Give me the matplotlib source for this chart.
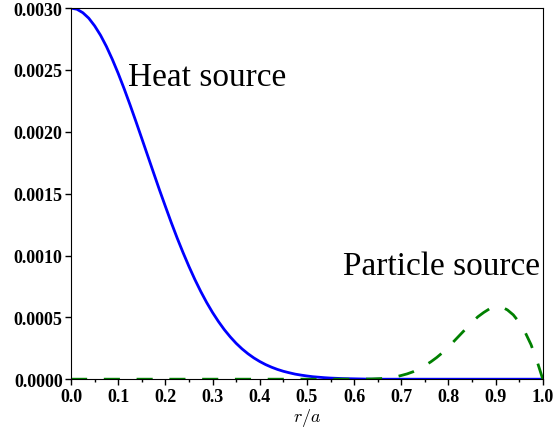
import numpy as np
import matplotlib
matplotlib.use("Agg")
import matplotlib.pyplot as plt
from matplotlib.ticker import MultipleLocator, FormatStrFormatter

# radial coordinate r/a
r = [0.0, 0.0125, 0.025, 0.0375, 0.05, 0.0625, 0.075, 0.0875,
     0.1, 0.1125, 0.125, 0.1375, 0.15, 0.1625, 0.175, 0.1875,
     0.2, 0.2125, 0.225, 0.2375, 0.25, 0.2625, 0.275, 0.2875,
     0.3, 0.3125, 0.325, 0.3375, 0.35, 0.3625, 0.375, 0.3875,
     0.4, 0.4125, 0.425, 0.4375, 0.45, 0.4625, 0.475, 0.4875,
     0.5, 0.5125, 0.525, 0.5375, 0.55, 0.5625, 0.575, 0.5875,
     0.6, 0.6125, 0.625, 0.6375, 0.65, 0.6625, 0.675, 0.6875,
     0.7, 0.7125, 0.725, 0.7375, 0.75, 0.7625, 0.775, 0.7875,
     0.8, 0.8125, 0.825, 0.8375, 0.85, 0.8625, 0.875, 0.8875,
     0.9, 0.9125, 0.925, 0.9375, 0.95, 0.9625, 0.975, 0.9875,
     1.0]

# heat source profile
heat = [0.003000, 0.002991, 0.002963, 0.002919, 0.002857, 0.002781, 0.002690, 0.002586,
        0.002472, 0.002349, 0.002219, 0.002084, 0.001946, 0.001807, 0.001668, 0.001530,
        0.001397, 0.001266, 0.001141, 0.001023, 0.000911, 0.000806, 0.000709, 0.000620,
        0.000539, 0.000466, 0.000400, 0.000342, 0.000290, 0.000245, 0.000206, 0.000172,
        0.000143, 0.000118, 0.000097, 0.000079, 0.000064, 0.000052, 0.000041, 0.000033,
        0.000026, 0.000020, 0.000016, 0.000012, 0.000009, 0.000007, 0.000005, 0.000004,
        0.000003, 0.000002, 0.000001, 0.0, 0.0, 0.0, 0.0, 0.0,
        0.0, 0.0, 0.0, 0.0, 0.0, 0.0, 0.0, 0.0,
        0.0, 0.0, 0.0, 0.0, 0.0, 0.0, 0.0, 0.0,
        0.0, 0.0, 0.0, 0.0, 0.0, 0.0, 0.0, 0.0,
        0.0]

# particle source profile
particle = [0.0, 0.0, 0.0, 0.0, 0.0, 0.0, 0.0, 0.0,
            0.0, 0.0, 0.0, 0.0, 0.0, 0.0, 0.0, 0.0,
            0.0, 0.0, 0.0, 0.0, 0.0, 0.0, 0.0, 0.0,
            0.0, 0.0, 0.0, 0.0, 0.0, 0.0, 0.0, 0.0,
            0.0, 0.0, 0.0, 0.0, 0.0, 0.0, 0.0, 0.0,
            0.0, 0.0, 0.0, 0.0, 0.0, 0.0, 0.0, 0.0,
            0.0, 0.0, 0.000001, 0.000002, 0.000004, 0.000006, 0.000010, 0.000018,
            0.000030, 0.000043, 0.000060, 0.000083, 0.000110, 0.000140, 0.000175, 0.000215,
            0.000260, 0.000310, 0.000360, 0.000410, 0.000460, 0.000505, 0.000540, 0.000570,
            0.000588, 0.000585, 0.000560, 0.000520, 0.000460, 0.000380, 0.000280, 0.000150,
            0.0]

plt.rcParams['font.family'] = 'Liberation Serif'
plt.rcParams['mathtext.fontset'] = 'cm'

fig = plt.figure(figsize=(5.55, 4.35), dpi=100)
ax = fig.add_axes([0.128, 0.126, 0.850, 0.853])

ax.plot(r, heat, color='#0000ff', lw=2.0)
ax.plot(r, particle, color='#008000', lw=2.0, dashes=(5.8, 6.0))

ax.set_xlim(0, 1)
ax.set_ylim(0, 0.003)
ax.xaxis.set_major_locator(MultipleLocator(0.1))
ax.xaxis.set_minor_locator(MultipleLocator(0.05))
ax.yaxis.set_major_locator(MultipleLocator(0.0005))
ax.xaxis.set_major_formatter(FormatStrFormatter('%.1f'))
ax.yaxis.set_major_formatter(FormatStrFormatter('%.4f'))
ax.tick_params(direction='out', length=4, width=1, labelsize=13, pad=2)
ax.tick_params(which='minor', direction='out', length=2.5, width=1)
for lab in ax.get_xticklabels() + ax.get_yticklabels():
    lab.set_fontweight('bold')

ax.text(0.121, 0.00238, 'Heat source', fontsize=24)
ax.text(0.576, 0.00085, 'Particle source', fontsize=24)

ax.set_xlabel(r'$r/a$', fontsize=13, labelpad=1)

fig.savefig('out.png', dpi=100)
